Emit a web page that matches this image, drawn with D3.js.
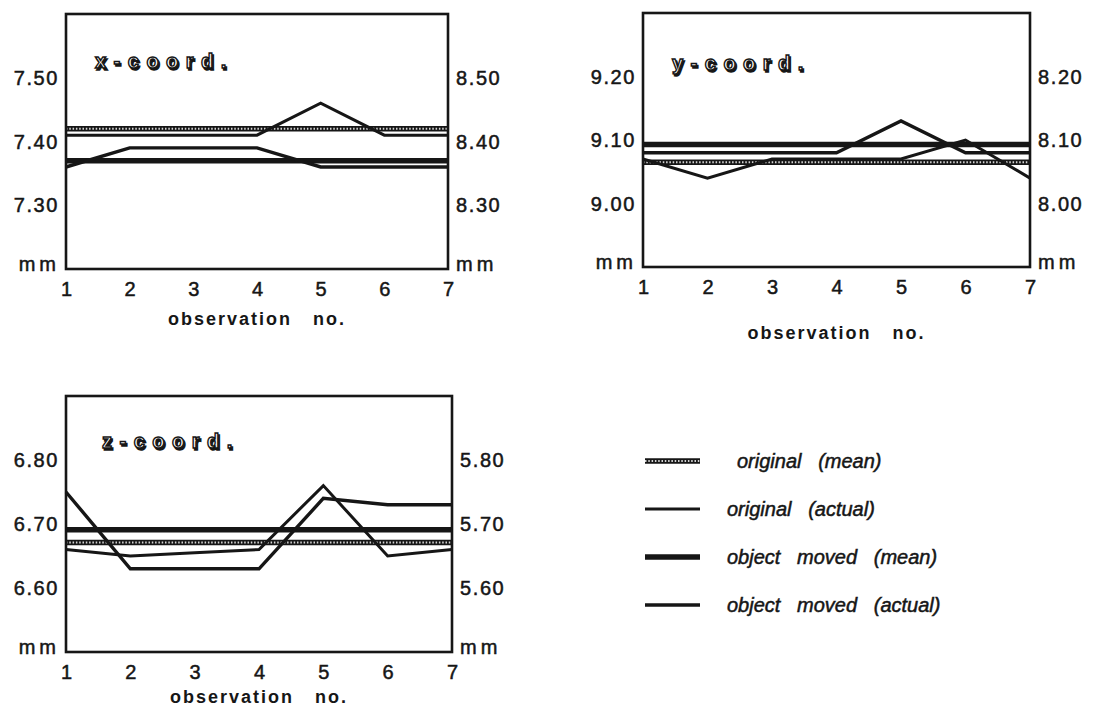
<!DOCTYPE html>
<html>
<head>
<meta charset="utf-8">
<script src="https://cdn.jsdelivr.net/npm/d3@7"></script>
<style>
  body { margin: 0; background: #fff; }
  svg { display: block; font-family: 'Liberation Sans', Arial, sans-serif; }
  .heavy { stroke: #161616; stroke-width: 0.5px; }
</style>
</head>
<body>
<div id="chart"></div>
<script>
// observation numbers
const obs = [1, 2, 3, 4, 5, 6, 7];

// x-coord (mm)
const xOrigActual = [7.41, 7.41, 7.41, 7.41, 7.46, 7.41, 7.41];
const xMovedActual = [7.36, 7.39, 7.39, 7.39, 7.36, 7.36, 7.36];
const xOrigMean = 7.42;
const xMovedMean = 7.37;

// y-coord (mm)
const yOrigActual = [9.07, 9.04, 9.07, 9.07, 9.07, 9.1, 9.04];
const yMovedActual = [9.08, 9.08, 9.08, 9.08, 9.13, 9.08, 9.08];
const yOrigMean = 9.065;
const yMovedMean = 9.093;

// z-coord (mm)
const zOrigActual = [6.66, 6.65, 6.655, 6.66, 6.76, 6.65, 6.66];
const zMovedActual = [6.75, 6.63, 6.63, 6.63, 6.74, 6.73, 6.73];
const zOrigMean = 6.671;
const zMovedMean = 6.691;

// tick labels
const xLeftTicks = ['7.30', '7.40', '7.50'];
const xRightTicks = ['8.30', '8.40', '8.50'];
const yLeftTicks = ['9.00', '9.10', '9.20'];
const yRightTicks = ['8.00', '8.10', '8.20'];
const zLeftTicks = ['6.60', '6.70', '6.80'];
const zRightTicks = ['5.60', '5.70', '5.80'];

const legendLabels = [
  'original   (mean)',
  'original   (actual)',
  'object   moved   (mean)',
  'object   moved   (actual)',
];

const width = 1093;
const height = 712;
const ink = '#161616';

const svg = d3
  .select('#chart')
  .append('svg')
  .attr('width', width)
  .attr('height', height);

const styles = {
  origMean: (sel) => sel.attr('stroke', ink).attr('stroke-width', 5.5),
  origMeanBeads: (sel) =>
    sel
      .attr('stroke', '#d4d4d4')
      .attr('stroke-width', 2)
      .attr('stroke-dasharray', '1.5,1.8'),
  origActual: (sel) => sel.attr('stroke', ink).attr('stroke-width', 3),
  movedMean: (sel) => sel.attr('stroke', ink).attr('stroke-width', 5.5),
  movedActual: (sel) => sel.attr('stroke', ink).attr('stroke-width', 3.4),
};

function drawPanel(cfg) {
  const g = svg.append('g');

  const x = d3.scaleLinear().domain([1, 7]).range([cfg.left, cfg.right]);
  const y = d3.scaleLinear().domain(cfg.domain).range([cfg.bottom, cfg.top]);

  // mean lines
  const meanLine = (v) =>
    g
      .append('line')
      .attr('x1', x(1))
      .attr('x2', x(7))
      .attr('y1', y(v))
      .attr('y2', y(v));

  meanLine(cfg.origMean).call(styles.origMean);
  meanLine(cfg.origMean).call(styles.origMeanBeads);
  meanLine(cfg.movedMean).call(styles.movedMean);

  const line = d3
    .line()
    .x((d, i) => x(obs[i]))
    .y((d) => y(d));

  g.append('path')
    .datum(cfg.origActual)
    .attr('fill', 'none')
    .attr('d', line)
    .call(styles.origActual);

  g.append('path')
    .datum(cfg.movedActual)
    .attr('fill', 'none')
    .attr('d', line)
    .call(styles.movedActual);

  // frame
  g.append('rect')
    .attr('x', cfg.left)
    .attr('y', cfg.top)
    .attr('width', cfg.right - cfg.left)
    .attr('height', cfg.bottom - cfg.top)
    .attr('fill', 'none')
    .attr('stroke', ink)
    .attr('stroke-width', 2.6);

  // left + right value labels
  const tickVals = cfg.leftTicks.map((d) => +d);
  g.selectAll('.lt')
    .data(cfg.leftTicks)
    .join('text')
    .attr('class', 'heavy')
    .attr('x', cfg.left - 7)
    .attr('y', (d) => y(+d))
    .attr('dy', '0.36em')
    .attr('text-anchor', 'end')
    .style('font-size', '20px')
    .style('letter-spacing', '1.6px')
    .attr('fill', ink)
    .text((d) => d);

  g.selectAll('.rt')
    .data(cfg.rightTicks)
    .join('text')
    .attr('class', 'heavy')
    .attr('x', cfg.right + 8)
    .attr('y', (d, i) => y(tickVals[i]))
    .attr('dy', '0.36em')
    .attr('text-anchor', 'start')
    .style('font-size', '20px')
    .style('letter-spacing', '1.6px')
    .attr('fill', ink)
    .text((d) => d);

  g.append('text')
    .attr('class', 'heavy')
    .attr('x', cfg.left - 6)
    .attr('y', cfg.bottom + 2)
    .attr('text-anchor', 'end')
    .style('font-size', '20px')
    .style('letter-spacing', '4px')
    .attr('fill', ink)
    .text('mm');

  g.append('text')
    .attr('class', 'heavy')
    .attr('x', cfg.right + 8)
    .attr('y', cfg.bottom + 2)
    .attr('text-anchor', 'start')
    .style('font-size', '20px')
    .style('letter-spacing', '4px')
    .attr('fill', ink)
    .text('mm');

  // observation axis
  const xAxis = g
    .append('g')
    .attr('transform', `translate(0,${cfg.bottom})`)
    .call(
      d3
        .axisBottom(x)
        .tickValues(obs)
        .tickFormat(d3.format('d'))
        .tickSize(0)
        .tickPadding(13)
    );
  xAxis.select('.domain').remove();
  xAxis
    .selectAll('text')
    .attr('class', 'heavy')
    .style('font-size', '20px')
    .style('font-family', "'Liberation Sans', Arial, sans-serif")
    .attr('fill', ink);

  g.append('text')
    .attr('x', (cfg.left + cfg.right) / 2)
    .attr('y', cfg.bottom + cfg.titleGap)
    .attr('text-anchor', 'middle')
    .style('font-size', '18px')
    .style('font-weight', 'bold')
    .style('letter-spacing', '2px')
    .style('white-space', 'pre')
    .attr('fill', ink)
    .text('observation   no.');

  // panel title, outline + shadow look
  const title = (dx, fill, stroke) =>
    g
      .append('text')
      .attr('x', cfg.left + cfg.titleDx + dx)
      .attr('y', cfg.top + cfg.titleDy + dx)
      .style('font-size', '20px')
      .style('font-weight', 'bold')
      .style('letter-spacing', '7.5px')
      .attr('fill', fill)
      .attr('stroke', stroke)
      .attr('stroke-width', 1.4)
      .text(cfg.title);

  title(1.5, ink, ink);
  title(0, '#fff', ink);
}

drawPanel({
  left: 66,
  right: 448,
  top: 14,
  bottom: 269,
  domain: [7.2, 7.6],
  leftTicks: xLeftTicks,
  rightTicks: xRightTicks,
  origActual: xOrigActual,
  movedActual: xMovedActual,
  origMean: xOrigMean,
  movedMean: xMovedMean,
  title: 'x-coord.',
  titleDx: 29,
  titleDy: 54,
  titleGap: 56,
});

drawPanel({
  left: 643,
  right: 1030,
  top: 13,
  bottom: 267,
  domain: [8.9, 9.3],
  leftTicks: yLeftTicks,
  rightTicks: yRightTicks,
  origActual: yOrigActual,
  movedActual: yMovedActual,
  origMean: yOrigMean,
  movedMean: yMovedMean,
  title: 'y-coord.',
  titleDx: 29,
  titleDy: 57,
  titleGap: 72,
});

drawPanel({
  left: 66,
  right: 452,
  top: 396,
  bottom: 652,
  domain: [6.5, 6.9],
  leftTicks: zLeftTicks,
  rightTicks: zRightTicks,
  origActual: zOrigActual,
  movedActual: zMovedActual,
  origMean: zOrigMean,
  movedMean: zMovedMean,
  title: 'z-coord.',
  titleDx: 36,
  titleDy: 52,
  titleGap: 51,
});

// legend
const legendY = d3
  .scalePoint()
  .domain(legendLabels)
  .range([461, 605]);

const legend = svg.append('g');
const swatchStyles = [
  styles.origMean,
  styles.origActual,
  styles.movedMean,
  styles.movedActual,
];

legendLabels.forEach((label, i) => {
  const yy = legendY(label);
  legend
    .append('line')
    .attr('x1', 645)
    .attr('x2', 700)
    .attr('y1', yy)
    .attr('y2', yy)
    .call(swatchStyles[i]);
  if (i === 0) {
    legend
      .append('line')
      .attr('x1', 645)
      .attr('x2', 700)
      .attr('y1', yy)
      .attr('y2', yy)
      .call(styles.origMeanBeads);
  }
  legend
    .append('text')
    .attr('class', 'heavy')
    .attr('x', i === 0 ? 737 : 727)
    .attr('y', yy)
    .attr('dy', '0.35em')
    .style('font-size', '20px')
    .style('font-style', 'italic')
    .style('white-space', 'pre')
    .attr('fill', ink)
    .text(label);
});
</script>
</body>
</html>
